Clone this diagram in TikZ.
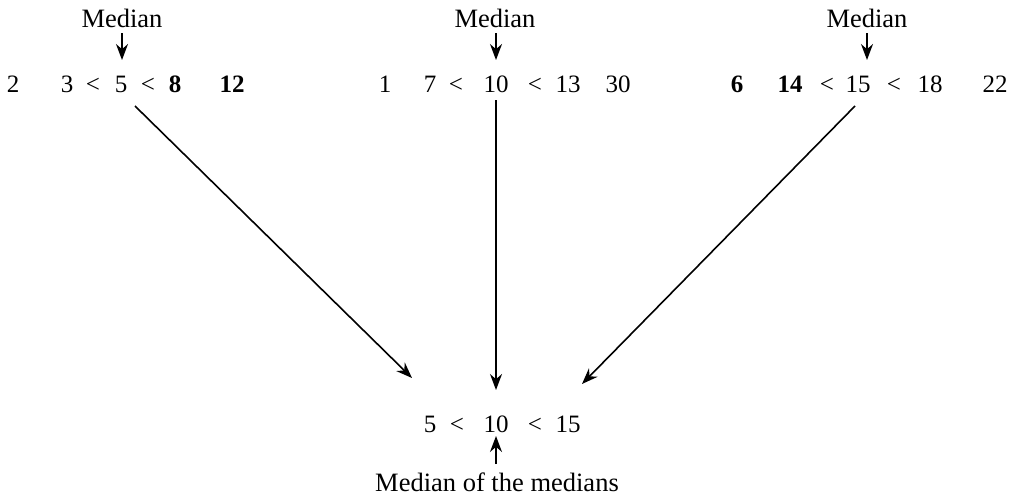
\documentclass[tikz,border=0pt]{standalone}
\usepackage{fontspec}
\setmainfont{Liberation Serif}
\usetikzlibrary{arrows.meta}
\begin{document}
\begin{tikzpicture}[x=1pt,y=-1pt,
  num/.style={font=\fontsize{25}{29}\selectfont, inner sep=0pt, anchor=base},
  bnum/.style={num, font=\fontsize{25}{29}\selectfont\bfseries},
  lab/.style={font=\fontsize{26.5}{30}\selectfont, inner sep=0pt, anchor=base},
  arr/.style={line width=1.6pt, -{Stealth[length=16pt,width=12pt]}}]
\useasboundingbox (0,0) rectangle (1010,501);
% labels
\node[lab] (m1) at (122,27) {Median};
\node[lab] (m2) at (495,27) {Median};
\node[lab] (m3) at (867,27) {Median};
% row 1
\node[num] (a1) at (13,92) {2};
\node[num] (a2) at (67,92) {3};
\node[num] (a3) at (93,92) {<};
\node[num] (a4) at (121,92) {5};
\node[num] (a5) at (148,92) {<};
\node[bnum] (a6) at (175,92) {8};
\node[bnum] (a7) at (232,92) {12};
% row 2
\node[num] (b1) at (385,92) {1};
\node[num] (b2) at (430,92) {7};
\node[num] (b3) at (456,92) {<};
\node[num] (b4) at (496,92) {10};
\node[num] (b5) at (535,92) {<};
\node[num] (b6) at (568,92) {13};
\node[num] (b7) at (618,92) {30};
% row 3
\node[bnum] (c1) at (737,92) {6};
\node[bnum] (c2) at (790,92) {14};
\node[num] (c3) at (827,92) {<};
\node[num] (c4) at (858,92) {15};
\node[num] (c5) at (894,92) {<};
\node[num] (c6) at (930,92) {18};
\node[num] (c7) at (995,92) {22};
% bottom
\node[num] (d1) at (430,432) {5};
\node[num] (d2) at (457,432) {<};
\node[num] (d3) at (496,432) {10};
\node[num] (d4) at (535,432) {<};
\node[num] (d5) at (568,432) {15};
\node[lab] (mm) at (497,491) {Median of the medians};
% arrows
\coordinate (t1) at (122,33);
\coordinate (t2) at (496,33);
\coordinate (t3) at (867,33);
\draw[arr] (t1) -- (122,60);
\draw[arr] (t2) -- (496,60);
\draw[arr] (t3) -- (867,60);
\coordinate (s1) at (135,106);
\coordinate (s2) at (496,100);
\coordinate (s3) at (855,106);
\coordinate (e1) at (412,378);
\coordinate (e2) at (496,390);
\coordinate (e3) at (582,384);
\draw[arr] (s1) -- (e1);
\draw[arr] (s2) -- (e2);
\draw[arr] (s3) -- (e3);
\coordinate (u1) at (496,464);
\draw[arr] (u1) -- (496,436);
\end{tikzpicture}
\end{document}
